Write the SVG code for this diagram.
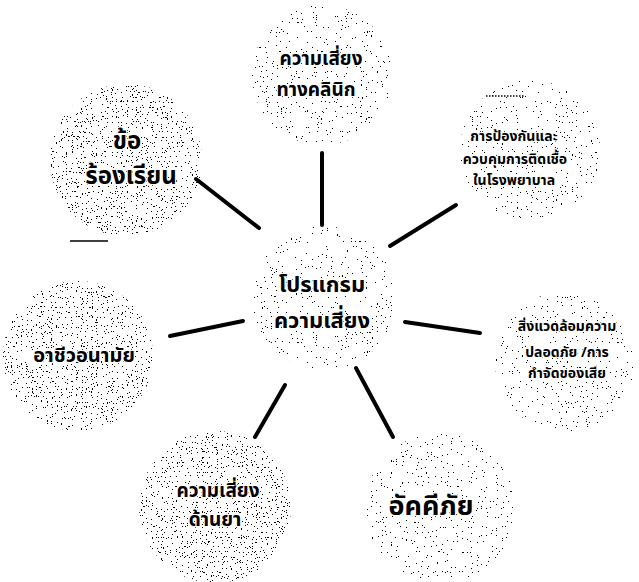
<svg xmlns="http://www.w3.org/2000/svg" width="639" height="582" viewBox="0 0 639 582">
<defs>
<filter id="stip" x="-10%" y="-10%" width="120%" height="120%">
<feTurbulence type="fractalNoise" baseFrequency="0.8" numOctaves="1" seed="3" result="n"/>
<feColorMatrix in="n" type="matrix" values="0 0 0 0 0  0 0 0 0 0  0 0 0 0 0  1 0 0 0 0" result="a"/>
<feComponentTransfer in="a" result="t"><feFuncA type="discrete" tableValues="0 0 0 0 0 0 0 0 0 0 0 0 0 0 0 0 0 1 1 1 1 1 1 1"/></feComponentTransfer>
<feComposite in="t" in2="SourceGraphic" operator="in"/>
</filter>
<filter id="stipD" x="-10%" y="-10%" width="120%" height="120%">
<feTurbulence type="fractalNoise" baseFrequency="0.8" numOctaves="1" seed="7" result="n"/>
<feColorMatrix in="n" type="matrix" values="0 0 0 0 0  0 0 0 0 0  0 0 0 0 0  1 0 0 0 0" result="a"/>
<feComponentTransfer in="a" result="t"><feFuncA type="discrete" tableValues="0 0 0 0 0 0 0 0 0 0 0 0 0 0 0 0 1 1 1 1 1 1 1 1"/></feComponentTransfer>
<feComposite in="t" in2="SourceGraphic" operator="in"/>
</filter>
</defs>
<style>
.blob{fill:#000;filter:url(#stip)}
.blobD{fill:#000;filter:url(#stipD)}
.t{font-family:"Noto Sans Thai","Noto Sans","DejaVu Sans",sans-serif;font-weight:bold;fill:#000;text-anchor:middle;stroke:#fff;stroke-width:2.5px;paint-order:stroke;stroke-linejoin:round}
.s14{font-size:14px}
.s16{font-size:19px}
.s18{font-size:20px}
.s22{font-size:22px}
.s24{font-size:24px}
.s26{font-size:27px}
.c{stroke:#000;stroke-width:4;stroke-linecap:round;fill:none}
.thin{stroke:#000;stroke-width:1.5;fill:none}
</style>
<rect width="639" height="582" fill="#fff"/>
<g id="connectors">
<line class="c" x1="322" y1="153" x2="322" y2="225"/>
<line class="c" x1="196" y1="179" x2="259" y2="228"/>
<line class="c" x1="390" y1="246" x2="456" y2="205"/>
<line class="c" x1="170" y1="336" x2="243" y2="321"/>
<line class="c" x1="405" y1="322" x2="480" y2="333"/>
<line class="c" x1="285" y1="385" x2="255" y2="437"/>
<line class="c" x1="356" y1="368" x2="393" y2="437"/>
<line class="thin" x1="70" y1="241" x2="108" y2="241"/>
<line class="thin" x1="486" y1="96" x2="525" y2="96" stroke-dasharray="1.5 1.5"/>
</g>
<g id="center">
<circle class="blob" cx="324" cy="298" r="72"/>
<text class="t s22" x="322" y="292">โปรแกรม</text>
<text class="t s22" x="322" y="328">ความเสี่ยง</text>
</g>
<g id="clinical">
<circle class="blob" cx="322" cy="75" r="70"/>
<text class="t s16" x="321" y="65">ความเสี่ยง</text>
<text class="t s16" x="316" y="96">ทางคลินิก</text>
</g>
<g id="infection">
<circle class="blob" cx="530" cy="150" r="70"/>
<text class="t s14" x="514" y="141">การป้องกันและ</text>
<text class="t s14" x="515" y="164">ควบคุมการติดเชื้อ</text>
<text class="t s14" x="514" y="185">ในโรงพยาบาล</text>
</g>
<g id="complaint">
<circle class="blobD" cx="126" cy="160" r="76"/>
<text class="t s24" x="127" y="149">ข้อ</text>
<text class="t s24" x="131" y="184">ร้องเรียน</text>
</g>
<g id="occupational">
<circle class="blobD" cx="78" cy="356" r="75"/>
<text class="t s18" x="84" y="362">อาชีวอนามัย</text>
</g>
<g id="environment">
<circle class="blob" cx="565" cy="362" r="70"/>
<text class="t s14" x="567" y="331">สิ่งแวดล้อมความ</text>
<text class="t s14" x="567" y="357">ปลอดภัย /การ</text>
<text class="t s14" x="567" y="378">กำจัดของเสีย</text>
</g>
<g id="drug">
<circle class="blobD" cx="215" cy="507" r="76"/>
<text class="t s16" x="218" y="497">ความเสี่ยง</text>
<text class="t s16" x="215" y="526">ด้านยา</text>
</g>
<g id="fire">
<circle class="blob" cx="440" cy="508" r="75"/>
<text class="t s26" x="431" y="515">อัคคีภัย</text>
</g>
</svg>
